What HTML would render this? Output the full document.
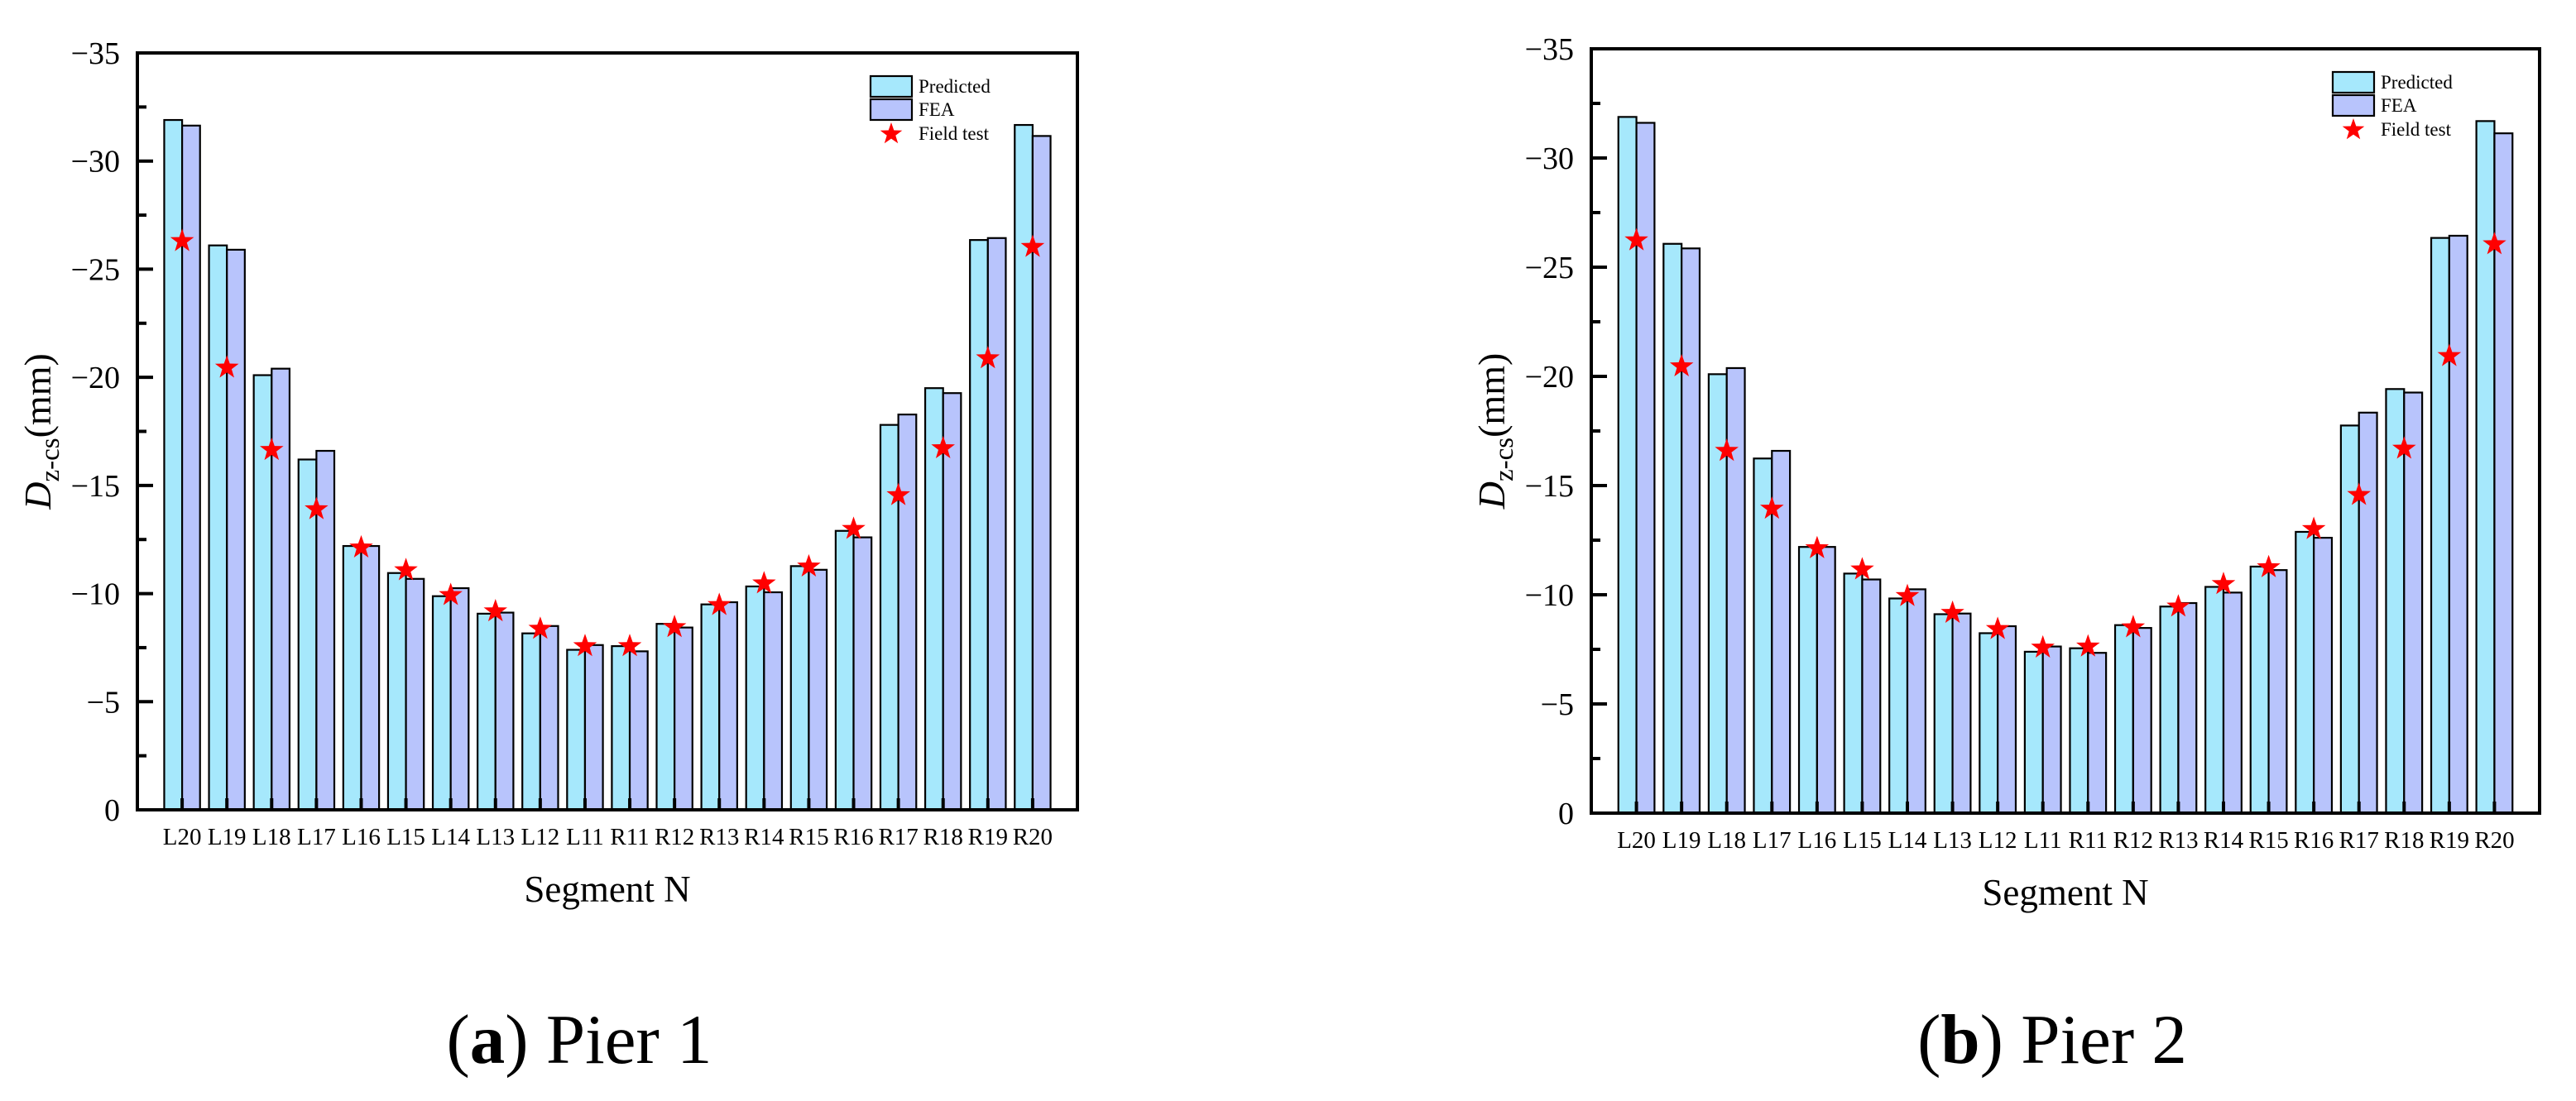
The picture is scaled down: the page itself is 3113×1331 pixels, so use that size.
<!DOCTYPE html>
<html><head><meta charset="utf-8"><style>
html,body{margin:0;padding:0;background:#fff;}
svg{display:block;}
svg text{font-family:"Liberation Serif","Times New Roman","DejaVu Serif",serif;}
</style></head><body>
<svg id="fig" width="3113" height="1331" viewBox="0 0 3113 1331" xmlns="http://www.w3.org/2000/svg" font-family="Liberation Serif, DejaVu Serif, serif"></svg>
<script>
const categories = ["L20","L19","L18","L17","L16","L15","L14","L13","L12","L11","R11","R12","R13","R14","R15","R16","R17","R18","R19","R20"];
const yTicks = [0,-5,-10,-15,-20,-25,-30,-35];
const p1Predicted = [-31.9,-26.1,-20.1,-16.2,-12.2,-10.95,-9.88,-9.07,-8.16,-7.4,-7.57,-8.6,-9.5,-10.33,-11.27,-12.9,-17.8,-19.5,-26.35,-31.67];
const p1FEA = [-31.64,-25.9,-20.4,-16.6,-12.2,-10.68,-10.25,-9.12,-8.5,-7.62,-7.33,-8.43,-9.6,-10.06,-11.1,-12.6,-18.28,-19.27,-26.44,-31.16];
const p1Field = [-26.3,-20.45,-16.64,-13.9,-12.13,-11.08,-9.93,-9.18,-8.37,-7.57,-7.57,-8.45,-9.47,-10.47,-11.25,-12.99,-14.55,-16.72,-20.88,-26.03];
const p2Predicted = [-31.88,-26.07,-20.1,-16.24,-12.19,-10.97,-9.83,-9.11,-8.24,-7.39,-7.55,-8.61,-9.46,-10.36,-11.29,-12.88,-17.75,-19.42,-26.34,-31.69];
const p2FEA = [-31.61,-25.86,-20.38,-16.59,-12.19,-10.7,-10.25,-9.14,-8.56,-7.63,-7.34,-8.48,-9.62,-10.1,-11.13,-12.61,-18.34,-19.26,-26.44,-31.13];
const p2Field = [-26.23,-20.46,-16.59,-13.94,-12.13,-11.16,-9.94,-9.17,-8.43,-7.58,-7.63,-8.51,-9.46,-10.49,-11.26,-13.01,-14.57,-16.69,-20.93,-26.05];

const NS = "http://www.w3.org/2000/svg";
const svg = document.getElementById("fig");
const FONT = "'Liberation Serif', 'DejaVu Serif', serif";
function mk(tag, attrs, parent){const e=document.createElementNS(NS,tag);for(const k in attrs)e.setAttribute(k,attrs[k]);if(tag==="text")e.setAttribute("font-family",FONT);(parent||svg).appendChild(e);return e;}
function starPts(cx,cy,R){const r=R*0.4;let s=[];for(let i=0;i<10;i++){const a=-Math.PI/2+i*Math.PI/5;const rr=i%2?r:R;s.push((cx+rr*Math.cos(a)).toFixed(1)+","+(cy+rr*Math.sin(a)).toFixed(1));}return s.join(" ");}

function chart(id, L, R, T, B, pred, fea, field, caption, capBold, capX){
  const g = mk("g",{});
  
  
  const n = categories.length;
  const step = (R-L)/(n+1);
  const xc = i => L + step*(i+1);
  const y = v => B + (v/35)*(B-T);
  const bw = step*0.4;
  for(let i=0;i<n;i++){
    const b1 = mk("rect",{x:xc(i)-bw,y:y(pred[i]),width:bw,height:B-y(pred[i]),fill:"#a6e8fc",stroke:"#000","stroke-width":2.2},g);
    
    
    const b2 = mk("rect",{x:xc(i),y:y(fea[i]),width:bw,height:B-y(fea[i]),fill:"#b8c4fc",stroke:"#000","stroke-width":2.2},g);
    
    
  }
  for(let i=0;i<n;i++){
    const s = mk("polygon",{points:starPts(xc(i),y(field[i]),15),fill:"#ff0000"},g);
    
    
    const tk = mk("line",{x1:xc(i),x2:xc(i),y1:B,y2:B-14,stroke:"#000","stroke-width":4},g);
    
    
    const t = mk("text",{x:xc(i),y:B+42,"font-size":29,"text-anchor":"middle"},g);
    t.textContent = categories[i];
    
    
  }
  for(let k=0;k<=14;k++){
    const v=-2.5*k; const yy=y(v); const major = k%2===0;
    const tl = mk("line",{x1:L,x2:L+(major?19:11),y1:yy,y2:yy,stroke:"#000","stroke-width":4},g);
    
    
  }
  yTicks.forEach(v=>{
    const t = mk("text",{x:L-21,y:y(v)+13,"font-size":38,"text-anchor":"end"},g);
    t.textContent = v===0 ? "0" : "\u2212"+Math.abs(v);
    
    
  });
  const fr = mk("rect",{x:L,y:T,width:R-L,height:B-T,fill:"none",stroke:"#000","stroke-width":4},g);
  
  
  const lx = R-250, ly = T+28;
  const l1 = mk("rect",{x:lx,y:ly,width:50,height:25,fill:"#a6e8fc",stroke:"#000","stroke-width":2.2},g);
  
  
  const l2 = mk("rect",{x:lx,y:ly+28,width:50,height:25,fill:"#b8c4fc",stroke:"#000","stroke-width":2.2},g);
  
  
  const l3 = mk("polygon",{points:starPts(lx+25,ly+70,14),fill:"#ff0000"},g);
  
  
  [["Predicted",ly+20],["FEA",ly+48],["Field test",ly+77]].forEach(([s,yy])=>{
    const t=mk("text",{x:lx+58,y:yy,"font-size":23},g);
    t.textContent=s;
    
    
  });
  const xt = mk("text",{x:(L+R)/2,y:B+111,"font-size":45,"text-anchor":"middle"},g);
  xt.textContent="Segment N";
  
  
  const cy=(T+B)/2, cx=L-121;
  const yt = mk("text",{x:0,y:0,"font-size":46,"text-anchor":"middle",transform:`translate(${cx+16},${cy}) rotate(-90)`},g);
  yt.innerHTML = '<tspan font-style="italic">D</tspan><tspan font-size="33" dy="10">z-cs</tspan><tspan dy="-10">(mm)</tspan>';
  
  
  const cp = mk("text",{x:capX,y:1285,"font-size":85,"text-anchor":"middle"},g);
  cp.innerHTML = '(<tspan font-weight="bold">'+capBold+'</tspan>) '+caption;
  
  
}
chart("chart-pier-1",166,1302,64,979,p1Predicted,p1FEA,p1Field,"Pier 1","a",700);
chart("chart-pier-2",1923,3069,59,983,p2Predicted,p2FEA,p2Field,"Pier 2","b",2480);
</script>
</body></html>
